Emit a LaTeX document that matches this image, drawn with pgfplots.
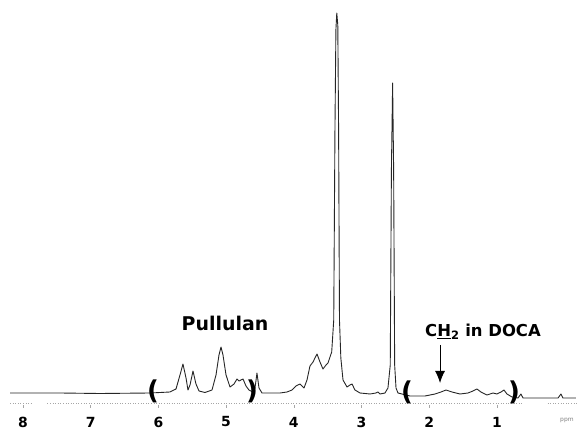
\documentclass[border=0pt]{standalone}
\usepackage{pgfplots}
\pgfplotsset{compat=1.18}
\usetikzlibrary{arrows.meta}
\usepackage{fontspec}
\setmainfont{DejaVu Sans}
\begin{document}
\begin{tikzpicture}
\begin{axis}[
  scale only axis, width=579bp, height=430bp,
  x dir=reverse, xmin=-0.213, xmax=8.340, ymin=0, ymax=430,
  hide axis, clip=false]
% dotted reference axis line
\addplot[gray!70, dotted, line width=0.6pt] coordinates {(8.192,27) (7.86,27)};
\addplot[gray!70, dotted, line width=0.6pt] coordinates {(7.64,27) (0.6,27)};
\addplot[gray!70, dotted, line width=0.6pt] coordinates {(0.25,27) (-0.20,27)};
% spectrum
\addplot[black!85, line width=0.9pt, line join=round] coordinates {
(8.192,37) (7.453,37) (6.863,36.5) (6.124,37) (5.829,38) (5.740,41) (5.681,55)
(5.637,66) (5.592,52) (5.563,40) (5.533,45) (5.489,59) (5.445,46) (5.400,39)
(5.312,37.5) (5.208,40) (5.149,55) (5.105,75) (5.075,83) (5.046,75) (5.001,55)
(4.942,43) (4.883,46) (4.839,51) (4.809,49) (4.780,50) (4.750,51) (4.706,44)
(4.662,40) (4.603,38) (4.573,42) (4.544,57) (4.514,42) (4.470,37) (4.204,37)
(4.100,38) (4.027,40) (3.968,44) (3.908,46) (3.849,42) (3.805,50) (3.761,64)
(3.716,68) (3.687,72) (3.657,76) (3.613,68) (3.569,61) (3.524,65) (3.495,67)
(3.440,78) (3.410,110) (3.392,300) (3.378,400) (3.365,417) (3.350,405) (3.338,300)
(3.325,110) (3.305,72)
(3.273,50) (3.214,43) (3.170,45) (3.140,46) (3.096,40) (3.022,37) (2.874,36)
(2.786,37) (2.756,38) (2.727,36) (2.653,37) (2.609,42) (2.575,65) (2.558,260)
(2.540,347) (2.525,260) (2.510,65) (2.490,42) (2.461,37) (2.284,34) (2.062,34)
(1.914,36) (1.826,38) (1.752,40) (1.663,38) (1.545,36) (1.427,37) (1.353,39)
(1.294,41) (1.235,38) (1.146,35) (1.058,37) (0.999,36) (0.939,38) (0.895,40)
(0.851,36) (0.777,33) (0.688,32) (0.644,36) (0.614,32) (0.363,32) (0.097,32)
(0.053,36) (0.024,32) (-0.168,32)};
% tick marks
\foreach \t in {1,...,8} {
  \edef\tmp{\noexpand\draw[gray!70, line width=0.5pt] (axis cs:\t,25) -- (axis cs:\t,22);}
  \tmp
}
% tick labels
\foreach \t in {1,...,8} {
  \edef\tmp{\noexpand\node[font=\noexpand\fontsize{14}{16}\noexpand\selectfont\noexpand\bfseries] at (axis cs:\t,8) {\t};}
  \tmp
}
\node[font=\fontsize{6}{7}\selectfont, text=gray] at (axis cs:-0.035,10) {ppm};
% brackets
\node[font=\fontsize{26}{28}\selectfont\bfseries, inner sep=0pt] at (axis cs:6.08,39) {(};
\node[font=\fontsize{26}{28}\selectfont\bfseries, inner sep=0pt] at (axis cs:4.617,39) {)};
\node[font=\fontsize{26}{28}\selectfont\bfseries, inner sep=0pt] at (axis cs:2.328,38) {(};
\node[font=\fontsize{26}{28}\selectfont\bfseries, inner sep=0pt] at (axis cs:0.747,37.5) {)};
% labels
\node[font=\fontsize{19}{22}\selectfont\bfseries] at (axis cs:5.016,107) {Pullulan};
\node[font=\fontsize{16.5}{19}\selectfont\bfseries] at (axis cs:1.205,98) {C\underline{H}$_{\mathbf 2}$ in DOCA};
\draw[-{Latex[length=12bp,width=10bp]}, line width=1pt] (axis cs:1.84,85) -- (axis cs:1.84,47);
\end{axis}
\pgfresetboundingbox
\path (0,0) rectangle (579bp,430bp);
\end{tikzpicture}
\end{document}
